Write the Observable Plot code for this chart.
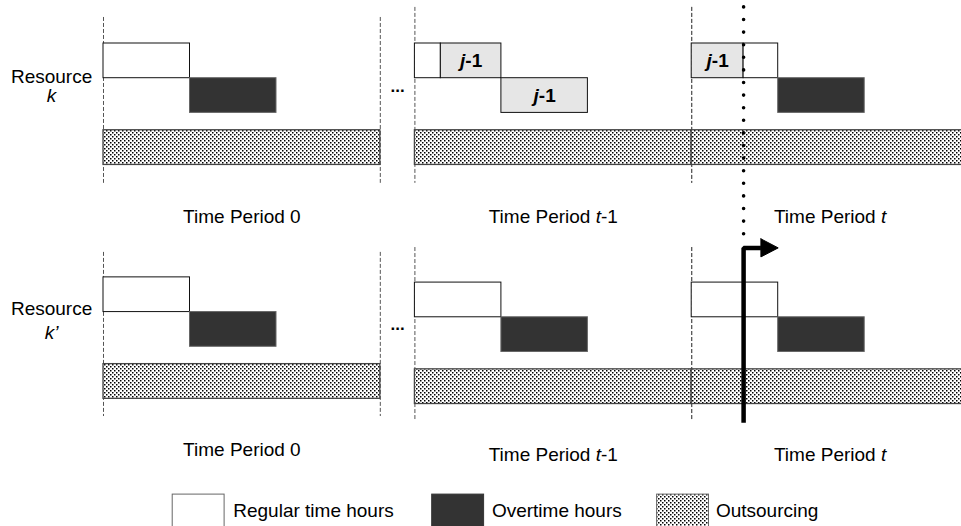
<!DOCTYPE html>
<html><head><meta charset="utf-8">
<script src="https://cdn.jsdelivr.net/npm/d3@7"></script>
<script src="https://cdn.jsdelivr.net/npm/@observablehq/plot@0.6"></script>
<style>html,body{margin:0;padding:0;background:#fff;overflow:hidden}</style>
</head><body><div id="chart"></div>
<script>
// ---------------- data ----------------
const resources = ["k", "k’"];
const periodNames = ["0", "t-1", "t"];
const periodStart = [0, 18, 34];      // start of each period on the time line (hours)
const periodLength = 16;              // hours in a period
const kinds = ["Regular time hours", "Overtime hours", "Outsourcing"];
const carryOver = 3;                  // hours of job j-1 carried into period t
// blocks: [period index, kind index, from hour, to hour, job]
const blocksK = [
  [0, 0, 0, 5, ""], [0, 1, 5, 10, ""], [0, 2, 0, 16, ""],
  [1, 0, 0, 1.5, ""], [1, 0, 1.5, 5, "j-1"], [1, 1, 5, 10, "j-1"], [1, 2, 0, 16, ""],
  [2, 0, 0, 3, "j-1"], [2, 0, 3, 5, ""], [2, 1, 5, 10, ""], [2, 2, 0, 16, ""]
];
const blocksK2 = [
  [0, 0, 0, 5, ""], [0, 1, 5, 10, ""], [0, 2, 0, 16, ""],
  [1, 0, 0, 5, ""], [1, 1, 5, 10, ""], [1, 2, 0, 16, ""],
  [2, 0, 0, 5, ""], [2, 1, 5, 10, ""], [2, 2, 0, 16, ""]
];

// ---------------- layout (lane units) ----------------
const laneTop = [0, 1, 2.5];
const panelBase = [[0, 0, 0], [6.74, 6.89, 6.89]];
const fence = [[[-0.75, 4.03], [-1.04, 4.03], [-1.04, 4.03]],
               [[6.02, 10.75], [5.88, 10.89], [5.88, 10.89]]];
const periodLabelY = [[5.0, 5.0, 5.0], [11.70, 11.87, 11.87]];
const resourceLabelY = [[0.95, 1.52], [7.66, 8.33]];
const ellipsisY = [1.24, 8.1];
const legendBox = [[4, 7], [19, 22], [32, 35]];
const legendTextX = [7.5, 22.45, 35.4];

const blocks = [];
[blocksK, blocksK2].forEach((arr, r) => arr.forEach(([p, k, a, b, job]) => {
  const base = panelBase[r][p] + laneTop[k];
  blocks.push({r, p, k, job, x1: periodStart[p] + a, x2: periodStart[p] + b,
    y1: base, y2: base + 1, cx: periodStart[p] + (a + b) / 2, cy: base + 0.5});
}));

const fences = [];
resources.forEach((_, r) => periodNames.forEach((_, p) => {
  const [y1, y2] = fence[r][p];
  fences.push({x: periodStart[p], y1, y2});
  fences.push({x: periodStart[p] + periodLength, y1, y2});
}));

const periodLabels = [];
resources.forEach((_, r) => periodNames.forEach((n, p) => {
  periodLabels.push({x: periodStart[p] + periodLength / 2, y: periodLabelY[r][p],
    text: "Time Period " + n.replace("t", "*t*")});
}));
const resourceLabels = [];
resources.forEach((n, r) => {
  resourceLabels.push({y: resourceLabelY[r][0], text: "Resource"});
  resourceLabels.push({y: resourceLabelY[r][1], text: "*" + n + "*"});
});
const ellX = (periodStart[0] + periodLength + periodStart[1]) / 2;
const cut = periodStart[2] + carryOver;

const legend = kinds.map((name, i) => ({name, k: i, x1: legendBox[i][0], x2: legendBox[i][1], y1: 13, y2: 14.2, tx: legendTextX[i]}));

const fillOf = d => d.k === 2 ? "url(#dots)" : d.job ? "#e6e6e6" : d.k === 1 ? "#333333" : "white";
const strokeOf = d => d.k === 2 ? "#555" : (d.k === 1 && !d.job) ? "#666" : "#111";

const UX = 17.3, UY = 34.7;
const plot = Plot.plot({
  width: 961, height: 526,
  marginTop: 0, marginRight: 0, marginBottom: 0, marginLeft: 0,
  style: {fontFamily: "'Liberation Sans', Arial, sans-serif", fontSize: "19px", color: "black", background: "white"},
  x: {domain: [-103 / UX, 858 / UX], range: [0, 961], axis: null},
  y: {domain: [-43 / UY, 483 / UY], range: [0, 526], axis: null},
  marks: [
    Plot.ruleX(fences, {x: "x", y1: "y1", y2: "y2", stroke: "#555", strokeWidth: 1, strokeDasharray: "4,2"}),
    Plot.rect(blocks.filter(d => d.k === 0), {x1: "x1", x2: "x2", y1: "y1", y2: "y2", fill: fillOf, stroke: strokeOf, strokeWidth: 1}),
    Plot.rect(blocks.filter(d => d.k === 1), {x1: "x1", x2: "x2", y1: "y1", y2: "y2", fill: fillOf, stroke: strokeOf, strokeWidth: 1}),
    Plot.rect(blocks.filter(d => d.k === 2), {x1: "x1", x2: "x2", y1: "y1", y2: "y2", fill: "url(#dots)", stroke: "#444", strokeWidth: 1.3}),
    Plot.text(blocks.filter(d => d.job), {x: "cx", y: "cy", text: d => "*j*-1", fontWeight: "bold", fontSize: 19}),
    Plot.text(periodLabels, {x: "x", y: "y", text: "text", fontSize: 19}),
    Plot.text(resourceLabels, {x: -3, y: "y", text: "text", fontSize: 19}),
    Plot.text(ellipsisY, {x: ellX, y: d => d, text: d => "...", fontWeight: "bold", fontSize: 17}),
    Plot.ruleX([cut], {x: d => d, y1: -1.04, y2: 5.6, stroke: "black", strokeWidth: 3.6, strokeDasharray: "0,12.6", strokeLinecap: "round"}),
    Plot.line([{x: cut, y: 10.93}, {x: cut, y: 5.89}, {x: cut + 1, y: 5.89}], {x: "x", y: "y", stroke: "black", strokeWidth: 4.5, strokeLinejoin: "miter", strokeLinecap: "butt"}),
    Plot.line([{x: cut + 1, y: 5.63}, {x: cut + 2, y: 5.89}, {x: cut + 1, y: 6.15}, {x: cut + 1, y: 5.63}], {x: "x", y: "y", fill: "black", stroke: "black", strokeWidth: 1}),
    Plot.rect(legend, {x1: "x1", x2: "x2", y1: "y1", y2: "y2",
      fill: d => d.k === 0 ? "white" : d.k === 1 ? "#333333" : "url(#dots)",
      stroke: d => d.k === 1 ? "#333" : "#666", strokeWidth: 1}),
    Plot.text(legend, {x: "tx", y: 13.46, text: "name", textAnchor: "start", fontSize: 19})
  ]
});

// pattern for outsourcing
const ns = "http://www.w3.org/2000/svg";
const defs = document.createElementNS(ns, "defs");
defs.innerHTML = '<pattern id="dots" width="4" height="4" patternUnits="userSpaceOnUse">' +
  '<rect width="4" height="4" fill="white"/>' +
  '<rect x="0" y="0" width="1.5" height="1.5" fill="black"/>' +
  '<rect x="2" y="2" width="1.5" height="1.5" fill="black"/></pattern>';
plot.insertBefore(defs, plot.firstChild);

// italic segments marked by *...*
plot.querySelectorAll("text").forEach(t => {
  const s = t.textContent;
  if (!s.includes("*")) return;
  while (t.firstChild) t.removeChild(t.firstChild);
  s.split("*").forEach((part, i) => {
    if (!part) return;
    const ts = document.createElementNS(ns, "tspan");
    if (i % 2) ts.setAttribute("font-style", "italic");
    ts.textContent = part;
    t.appendChild(ts);
  });
});

document.getElementById("chart").appendChild(plot);
</script>
</body></html>
